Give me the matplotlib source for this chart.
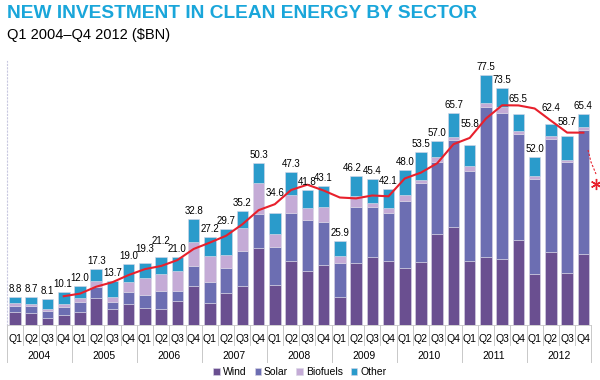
import matplotlib
matplotlib.use("Agg")
import matplotlib.pyplot as plt
from matplotlib.lines import Line2D
import numpy as np
import pandas as pd

plt.rcParams['font.family'] = ['Liberation Sans', 'DejaVu Sans']

# --- DATA ---
years = ['2004', '2005', '2006', '2007', '2008', '2009', '2010', '2011', '2012']
quarters = ['Q1', 'Q2', 'Q3', 'Q4']

wind = [3.9, 3.6, 2.1, 3.1, 3.9, 8.3, 4.9, 6.5,
        5.4, 4.9, 7.5, 12.2, 6.7, 10.0, 12.2, 24.0,
        12.4, 19.9, 16.8, 18.6, 8.6, 19.1, 21.2, 19.9,
        17.6, 19.4, 28.1, 30.3, 19.9, 21.0, 20.4, 26.5,
        15.7, 22.5, 16.0, 21.9]
solar = [2.0, 2.3, 2.3, 2.4, 3.3, 3.6, 2.3, 3.8,
         3.9, 5.7, 3.1, 6.1, 6.7, 7.8, 10.8, 10.4,
         11.9, 14.9, 15.7, 13.4, 10.7, 17.4, 15.3, 14.7,
         20.9, 24.6, 22.5, 27.0, 27.9, 46.5, 45.2, 32.7,
         29.5, 35.1, 34.4, 38.7]
biofuels = [0.8, 0.7, 0.7, 1.0, 1.3, 1.8, 1.6, 3.1,
            5.2, 5.2, 6.1, 7.5, 8.0, 3.9, 7.0, 9.5,
            3.9, 5.5, 3.9, 4.7, 2.2, 3.5, 1.4, 1.8,
            1.8, 1.0, 1.6, 1.1, 1.5, 1.4, 2.1, 1.0,
            1.0, 1.0, 0.7, 0.9]
other = [2.1, 2.1, 3.0, 3.6, 3.5, 3.6, 4.9, 5.6,
         4.8, 5.4, 4.3, 7.0, 5.8, 8.0, 5.2, 6.4,
         6.4, 7.0, 5.4, 6.4, 4.4, 6.2, 7.5, 5.7,
         7.7, 8.5, 4.8, 7.3, 6.5, 8.6, 5.8, 5.3,
         5.8, 3.8, 7.6, 3.9]
totals = [8.8, 8.7, 8.1, 10.1, 12.0, 17.3, 13.7, 19.0,
          19.3, 21.2, 21.0, 32.8, 27.2, 29.7, 35.2, 50.3,
          34.6, 47.3, 41.8, 43.1, 25.9, 46.2, 45.4, 42.1,
          48.0, 53.5, 57.0, 65.7, 55.8, 77.5, 73.5, 65.5,
          52.0, 62.4, 58.7, 65.4]

# --- STYLE ---
c_wind = '#6a4f90'
c_solar = '#6c6eb2'
c_bio = '#c4abd6'
c_other = '#2a9bcb'
c_title = '#1aa6da'
c_line = '#e8202c'
c_sep = '#c8c8c8'

# label nudges (px): lifts above the trend line, sideways shifts
lifts = {8: 6, 9: 8, 16: 12, 28: 13, 31: 7, 33: 8, 34: 6}
shifts = {21: -3.5, 3: -1.5}

fig = plt.figure(figsize=(6, 3.8), dpi=100)
fig.patch.set_facecolor('white')
ax = fig.add_axes([6.9 / 600, 55 / 380, 584.6 / 600, 264.5 / 380])

x = np.arange(len(totals))
w = 0.71
bottom = np.zeros(len(totals))
series = [(wind, c_wind, 'Wind'), (solar, c_solar, 'Solar'),
          (biofuels, c_bio, 'Biofuels'), (other, c_other, 'Other')]
for vals, col, lab in series:
    ax.bar(x, vals, w, bottom=bottom, color=col, edgecolor='#d9d6e6',
           linewidth=0.4, label=lab, zorder=2)
    bottom += np.array(vals)

# 4-quarter moving average
ma = pd.Series(totals).rolling(4).mean()
ax.plot(x[3:], ma[3:], color=c_line, lw=1.5, zorder=3)

# value labels
for i, t in enumerate(totals):
    dy = (8 + lifts.get(i, 0)) * 0.72
    dx = shifts.get(i, 0) * 0.72
    ax.annotate(f'{t:.1f}', (i, t), xytext=(dx, dy), textcoords='offset points',
                ha='center', va='center', fontsize=7, color='black', zorder=4)

ax.set_xlim(-0.5, 35.5)
ax.set_ylim(0, 82)
ax.set_xticks([])
ax.set_yticks([])
for s in ['top', 'right']:
    ax.spines[s].set_visible(False)
ax.spines['left'].set_linestyle((0, (1, 2)))
ax.spines['left'].set_color('#c8c8e0')
ax.spines['left'].set_linewidth(0.8)
ax.spines['bottom'].set_color(c_sep)
ax.spines['bottom'].set_linewidth(0.6)

# category axis: quarters, years, separators
trans = ax.get_xaxis_transform()
h_px = 264.5
for i in range(len(totals)):
    ax.text(i, -14 / h_px, quarters[i % 4], transform=trans, ha='center',
            va='center', fontsize=7.5)
for k, yr in enumerate(years):
    ax.text(4 * k + 1.5, -31 / h_px, yr, transform=trans, ha='center',
            va='center', fontsize=7.5)
for i in range(len(totals) + 1):
    xs = i - 0.5
    y1 = -37 / h_px if i % 4 == 0 else -20 / h_px
    ax.add_line(Line2D([xs, xs], [0, y1], transform=trans, color=c_sep,
                       lw=0.7, clip_on=False))

# legend
leg = fig.legend(loc='center', bbox_to_anchor=(300 / 600, 1 - 372 / 380),
                 ncol=4, frameon=False, fontsize=7.5, handlelength=0.6,
                 handleheight=0.6, handletextpad=0.3, columnspacing=0.8)

# titles
fig.text(7 / 600, 1 - 14 / 380, 'NEW INVESTMENT IN CLEAN ENERGY BY SECTOR',
         color=c_title, fontsize=13.8, fontweight='bold', va='center', ha='left')
fig.text(7 / 600, 1 - 35 / 380, 'Q1 2004\u2013Q4 2012 ($BN)',
         color='black', fontsize=10.5, va='center', ha='left')

# small red mark at right edge
fig.add_artist(Line2D([588 / 600, 591 / 600, 596 / 600],
                      [1 - 150 / 380, 1 - 162 / 380, 1 - 174 / 380],
                      color=c_line, lw=0.8, ls=(0, (2, 1.5))))
fig.add_artist(Line2D([596 / 600], [1 - 184 / 380], marker=(6, 2, 0),
                      markersize=8, color=c_line, mew=1.0, ls='none'))

fig.savefig('out.png', dpi=100, facecolor='white')
